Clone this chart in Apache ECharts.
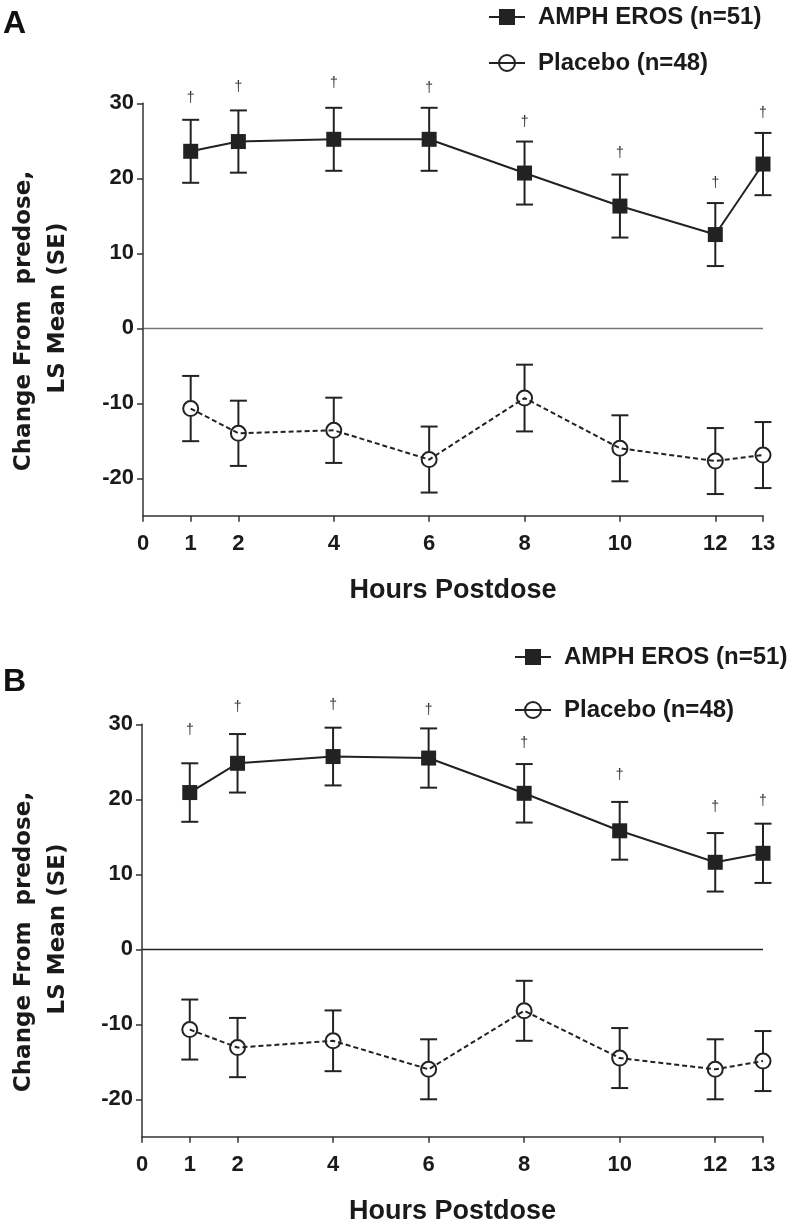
<!DOCTYPE html>
<html>
<head>
<meta charset="utf-8">
<script src="https://cdn.jsdelivr.net/npm/echarts@6/dist/echarts.min.js"></script>
<style>
  html, body { margin: 0; padding: 0; background: #fff; }
  #chart { width: 792px; height: 1226px; }
</style>
</head>
<body>
<div id="chart"></div>
<script>
// ---------- data ----------
const hours = [1, 2, 4, 6, 8, 10, 12, 13];
const xTickValues = [0, 1, 2, 4, 6, 8, 10, 12, 13];
const yTickValues = [-20, -10, 0, 10, 20, 30];
const seriesNames = ['AMPH EROS (n=51)', 'Placebo (n=48)'];

// Panel A
const ampA_mean = [23.6, 24.9, 25.2, 25.2, 20.7, 16.3, 12.5, 21.9];
const ampA_se   = [4.2, 4.15, 4.2, 4.2, 4.2, 4.2, 4.2, 4.15];
const plaA_mean = [-10.7, -14.0, -13.6, -17.5, -9.3, -16.0, -17.7, -16.9];
const plaA_se   = [4.35, 4.35, 4.35, 4.4, 4.45, 4.4, 4.4, 4.4];
const daggerA   = [30.7, 32.2, 32.7, 32.0, 27.5, 23.3, 19.3, 28.7];

// Panel B
const ampB_mean = [20.9, 24.8, 25.7, 25.5, 20.8, 15.8, 11.6, 12.8];
const ampB_se   = [3.9, 3.9, 3.85, 3.95, 3.9, 3.85, 3.9, 3.95];
const plaB_mean = [-10.7, -13.1, -12.2, -16.0, -8.2, -14.5, -16.0, -14.9];
const plaB_se   = [4.0, 3.95, 4.05, 4.0, 4.0, 4.0, 4.0, 4.0];
const daggerB   = [29.2, 32.3, 32.6, 31.9, 27.5, 23.2, 18.9, 19.7];

// ---------- style ----------
const INK = '#222';
const FONT = 'Liberation Sans, Arial, sans-serif';
const TITLE_FONT = 'DejaVu Sans, sans-serif';

function pts(means) { return hours.map((h, i) => [h, means[i]]); }
function bars(means, se) { return hours.map((h, i) => [h, means[i] - se[i], means[i] + se[i], means[i]]); }
function daggers(ys) { return hours.map((h, i) => [h, ys[i]]); }

function errorSeries(idx, means, se, gap) {
  return {
    type: 'custom', xAxisIndex: idx, yAxisIndex: idx, z: 1, silent: true,
    clip: false,
    encode: { x: 0, y: [1, 2] },
    data: bars(means, se),
    renderItem: function (params, api) {
      const x = api.value(0);
      const lo = api.coord([x, api.value(1)]);
      const hi = api.coord([x, api.value(2)]);
      const mid = api.coord([x, api.value(3)]);
      const cw = 8.5;
      const st = { stroke: INK, lineWidth: 2 };
      return {
        type: 'group',
        children: [
          { type: 'line', shape: { x1: hi[0], y1: hi[1], x2: mid[0], y2: mid[1] - gap }, style: st },
          { type: 'line', shape: { x1: mid[0], y1: mid[1] + gap, x2: lo[0], y2: lo[1] }, style: st },
          { type: 'line', shape: { x1: hi[0] - cw, y1: hi[1], x2: hi[0] + cw, y2: hi[1] }, style: st },
          { type: 'line', shape: { x1: lo[0] - cw, y1: lo[1], x2: lo[0] + cw, y2: lo[1] }, style: st }
        ]
      };
    }
  };
}

function daggerSeries(idx, ys) {
  return {
    type: 'custom', xAxisIndex: idx, yAxisIndex: idx, z: 5, silent: true,
    clip: false,
    encode: { x: 0, y: 1 },
    data: daggers(ys),
    renderItem: function (params, api) {
      const p = api.coord([api.value(0), api.value(1)]);
      return {
        type: 'text',
        style: {
          text: '\u2020', x: p[0], y: p[1],
          textAlign: 'center', textVerticalAlign: 'middle',
          font: '14px ' + FONT, fill: '#333'
        }
      };
    }
  };
}

function panelSeries(idx, ampM, ampS, plaM, plaS, dag, zeroColor) {
  return [
    errorSeries(idx, ampM, ampS, 0),
    errorSeries(idx, plaM, plaS, 8),
    {
      name: seriesNames[0], type: 'line', xAxisIndex: idx, yAxisIndex: idx, z: 3,
      data: pts(ampM), symbol: 'rect', symbolSize: 15,
      itemStyle: { color: INK },
      lineStyle: { color: INK, width: 2 },
      clip: false,
      markLine: {
        silent: true, symbol: 'none', label: { show: false },
        lineStyle: { color: zeroColor, width: 1.3, type: 'solid' },
        data: [{ yAxis: 0 }], z: 0
      }
    },
    {
      name: seriesNames[1], type: 'line', xAxisIndex: idx, yAxisIndex: idx, z: 3,
      data: pts(plaM), symbol: 'circle', symbolSize: 15,
      itemStyle: { color: 'rgba(255,255,255,0)', borderColor: INK, borderWidth: 2 },
      lineStyle: { color: INK, width: 2, type: [5, 3] },
      clip: false
    },
    daggerSeries(idx, dag)
  ];
}

function xAxisCfg(idx) {
  return {
    type: 'value', gridIndex: idx, min: 0, max: 13,
    axisLine: { show: true, onZero: false, lineStyle: { color: '#333', width: 1.5 } },
    axisTick: { show: true, customValues: xTickValues, length: 6, lineStyle: { color: '#333', width: 1.5 } },
    axisLabel: { customValues: xTickValues, fontSize: 22, fontFamily: FONT, fontWeight: 'bold', color: '#1a1a1a', margin: 17 },
    splitLine: { show: false },
    name: 'Hours Postdose', nameLocation: 'middle', nameGap: 61,
    nameTextStyle: { fontSize: 27, fontFamily: FONT, color: '#1a1a1a', fontWeight: 'bold' }
  };
}
function yAxisCfg(idx) {
  return {
    type: 'value', gridIndex: idx, min: -25, max: 30,
    axisLine: { show: true, onZero: false, lineStyle: { color: '#333', width: 1.5 } },
    axisTick: { show: true, customValues: yTickValues, length: 6, lineStyle: { color: '#333', width: 1.5 } },
    axisLabel: { customValues: yTickValues, fontSize: 22, fontFamily: FONT, fontWeight: 'bold', color: '#1a1a1a', margin: 9 },
    splitLine: { show: false }
  };
}

function legendCfg(left, top, gap) {
  return {
    orient: 'vertical', left: left, top: top, itemGap: gap,
    itemWidth: 36, itemHeight: 20, selectedMode: false,
    data: seriesNames,
    lineStyle: { type: 'solid', width: 2 },
    textStyle: { fontSize: 24, fontFamily: FONT, color: '#1a1a1a', fontWeight: 'bold', padding: [0, 0, 0, 8] }
  };
}

const yTitleStyle = { font: 'bold 23px ' + TITLE_FONT, fill: '#1a1a1a', textAlign: 'center', textVerticalAlign: 'middle' };

const option = {
  backgroundColor: '#fff',
  animation: false,
  grid: [
    { left: 143, right: 29, top: 103.3, height: 412.5 },
    { left: 142, right: 29, top: 724.3, height: 412.5 }
  ],
  xAxis: [xAxisCfg(0), xAxisCfg(1)],
  yAxis: [yAxisCfg(0), yAxisCfg(1)],
  legend: [legendCfg(483, 0, 22), legendCfg(509, 640, 29)],
  graphic: [
    { type: 'text', left: 3, top: 8, style: { text: 'A', font: 'bold 32px ' + FONT, fill: '#111' } },
    { type: 'text', left: 3, top: 666, style: { text: 'B', font: 'bold 32px ' + FONT, fill: '#111' } },
    { type: 'text', x: 24, y: 321, rotation: Math.PI / 2, style: Object.assign({ text: 'Change From  predose,' }, yTitleStyle) },
    { type: 'text', x: 58, y: 308, rotation: Math.PI / 2, style: Object.assign({ text: 'LS Mean (SE)' }, yTitleStyle) },
    { type: 'text', x: 24, y: 942, rotation: Math.PI / 2, style: Object.assign({ text: 'Change From  predose,' }, yTitleStyle) },
    { type: 'text', x: 58, y: 929, rotation: Math.PI / 2, style: Object.assign({ text: 'LS Mean (SE)' }, yTitleStyle) }
  ],
  series: [].concat(
    panelSeries(0, ampA_mean, ampA_se, plaA_mean, plaA_se, daggerA, '#777'),
    panelSeries(1, ampB_mean, ampB_se, plaB_mean, plaB_se, daggerB, '#222')
  )
};

const chart = echarts.init(document.getElementById('chart'), null, { renderer: 'canvas' });
chart.setOption(option);
</script>
</body>
</html>
